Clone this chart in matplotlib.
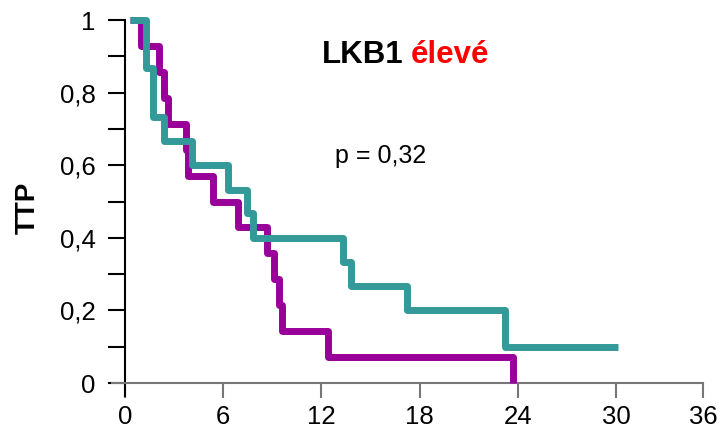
import matplotlib
matplotlib.use("Agg")
import matplotlib.pyplot as plt

plt.rcParams['font.family'] = ['Liberation Sans', 'DejaVu Sans']

# Kaplan-Meier curves (months, survival)
teal_t = [0.3, 1.3, 1.71, 2.38, 4.09, 6.3, 7.45, 7.8, 13.3, 13.8, 17.2, 23.2, 30.1]
teal_s = [1.0, 0.867, 0.733, 0.667, 0.6, 0.533, 0.467, 0.4, 0.333, 0.267, 0.2, 0.1, 0.1]

purple_t = [0.3, 1.0, 2.1, 2.38, 2.6, 3.7, 3.86, 5.4, 6.9, 8.7, 9.1, 9.4, 9.6, 12.4, 23.7]
purple_s = [1.0, 0.929, 0.857, 0.786, 0.714, 0.643, 0.571, 0.5, 0.429, 0.357, 0.286,
            0.214, 0.143, 0.071, 0.0]

x_ticks = [0, 6, 12, 18, 24, 30, 35.3]
x_labels = ['0', '6', '12', '18', '24', '30', '36']
y_ticks = [0, 0.2, 0.4, 0.6, 0.8, 1.0]
y_labels = ['0', '0,2', '0,4', '0,6', '0,8', '1']

TEAL = '#339999'
PURPLE = '#990099'

fig = plt.figure(figsize=(7.17, 4.32), dpi=100)
ax = fig.add_axes([0.156, 0.084, 0.9805 - 0.156, 0.9537 - 0.084])

ax.step(purple_t, purple_s, where='post', color=PURPLE, lw=5,
        solid_joinstyle='round', solid_capstyle='butt', clip_on=False, zorder=3)
ax.step(teal_t, teal_s, where='post', color=TEAL, lw=5,
        solid_joinstyle='round', solid_capstyle='butt', clip_on=False, zorder=4)

ax.set_xlim(-0.8, 35.3)
ax.set_ylim(-0.035, 1.0)

for s in ['top', 'right']:
    ax.spines[s].set_visible(False)
ax.spines['left'].set_position(('data', 0))
ax.spines['bottom'].set_position(('data', 0))
ax.spines['left'].set_color('black')
ax.spines['left'].set_linewidth(1.5)
ax.spines['bottom'].set_color('#777777')
ax.spines['bottom'].set_linewidth(1.5)

ax.set_xticks(x_ticks)
ax.set_xticklabels(x_labels)
ax.set_yticks(y_ticks)
ax.set_yticklabels(y_labels)
ax.set_yticks([0.1, 0.3, 0.5, 0.7, 0.9], minor=True)

ax.tick_params(axis='x', direction='out', length=11, width=1.5, color='#777777',
               labelsize=18.5, pad=5)
ax.tick_params(axis='y', which='both', direction='out', length=12, width=1.5,
               color='black', labelsize=18.5, pad=9)

ax.set_ylabel('TTP', fontsize=20, fontweight='bold', labelpad=14)

ax.text(17.04, 0.882, 'LKB1', fontsize=22.5, fontweight='bold', color='black',
        ha='right', va='baseline')
ax.text(17.47, 0.882, 'élevé', fontsize=22.5, fontweight='bold', color='#ff0000',
        ha='left', va='baseline')
ax.text(12.8, 0.605, 'p = 0,32', fontsize=18, color='black', ha='left', va='baseline')

fig.savefig('out.png', dpi=100)
